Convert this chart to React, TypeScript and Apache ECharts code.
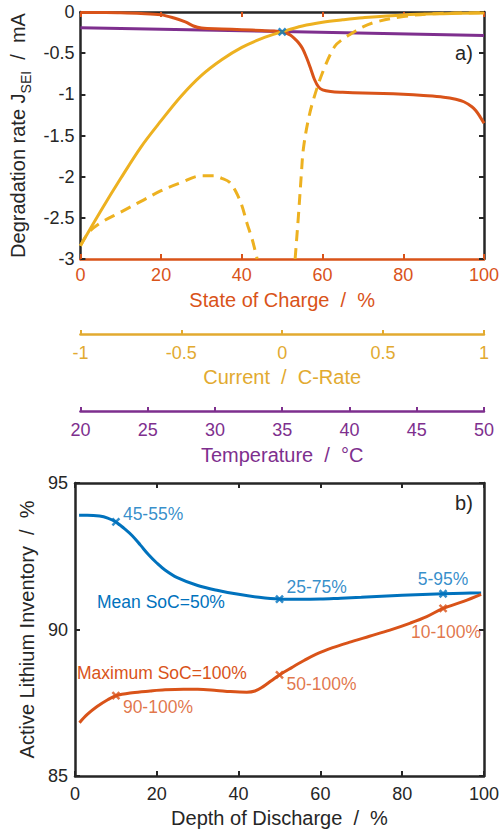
import React, { useEffect, useRef } from 'react';
import * as echarts from 'echarts';

const FONT = "'Liberation Sans', Arial, Helvetica, sans-serif";
const DARK = '#262626';
const ORANGE = '#D95319';
const YELLOW = '#EDB120';
const YELLOW_AXIS = '#E2AA30';
const PURPLE = '#7E2F8E';
const BLUE = '#0072BD';

const TICK_FS = 18;
const TITLE_FS = 20;
const NOTE_FS = 17.5;

// ---------- Panel a) ----------
// Degradation rate vs State of Charge (%)
const socX = [0, 5, 10, 15, 20, 23, 26, 28, 30, 35, 40, 45, 48, 50, 51, 52, 53, 54, 55, 56, 57, 58, 59, 60, 62, 65, 70, 75, 80, 85, 90, 93, 95, 97, 98, 99, 100];
const socRate = [-0.005, -0.007, -0.01, -0.018, -0.035, -0.07, -0.12, -0.17, -0.195, -0.205, -0.215, -0.225, -0.232, -0.24, -0.255, -0.28, -0.32, -0.37, -0.44, -0.55, -0.68, -0.82, -0.91, -0.945, -0.965, -0.975, -0.985, -0.99, -1.0, -1.015, -1.035, -1.06, -1.09, -1.15, -1.2, -1.27, -1.35];

// Degradation rate vs Current (C-rate), solid
const currentX = [-1, -0.9, -0.8, -0.7, -0.6, -0.5, -0.4, -0.3, -0.2, -0.1, 0, 0.1, 0.2, 0.3, 0.4, 0.6, 0.8, 1];
const currentRate = [-2.84, -2.42, -2.02, -1.64, -1.32, -1.02, -0.77, -0.58, -0.43, -0.32, -0.24, -0.17, -0.125, -0.095, -0.07, -0.035, -0.02, -0.012];

// Degradation rate vs Current (C-rate), dashed, two branches
const currentDashAX = [-1, -0.96, -0.9, -0.8, -0.7, -0.6, -0.5, -0.4, -0.34, -0.3, -0.26, -0.23, -0.2, -0.174, -0.15, -0.134, -0.124];
const currentDashARate = [-2.84, -2.68, -2.56, -2.43, -2.3, -2.17, -2.07, -1.99, -1.99, -2.02, -2.07, -2.18, -2.35, -2.57, -2.75, -2.9, -3.0];
const currentDashBX = [0.064, 0.08, 0.096, 0.104, 0.126, 0.154, 0.204, 0.26, 0.3, 0.352, 0.4, 0.466, 0.6, 0.76, 1];
const currentDashBRate = [-3.0, -2.49, -1.93, -1.68, -1.35, -1.07, -0.71, -0.42, -0.33, -0.25, -0.18, -0.12, -0.055, -0.02, -0.01];

// Degradation rate vs Temperature (°C)
const tempX = [20, 35, 50];
const tempRate = [-0.19, -0.2375, -0.285];

// Reference operating point (SoC %, rate)
const refPoint = [50, -0.24];

const socTicks = { min: 0, max: 100, interval: 20 };
const currentTicks = { min: -1, max: 1, interval: 0.5 };
const tempTicks = { min: 20, max: 50, interval: 5 };
const rateTicks = { min: -3, max: 0, interval: 0.5 };

// ---------- Panel b) ----------
const dodMean = [1, 3, 6, 8, 10, 12, 14, 16, 18, 20, 22, 25, 30, 35, 40, 45, 50, 55, 60, 65, 70, 80, 90, 95, 99.3];
const aliMean = [93.9, 93.9, 93.87, 93.8, 93.67, 93.45, 93.2, 92.88, 92.55, 92.27, 92.03, 91.77, 91.5, 91.33, 91.2, 91.1, 91.04, 91.03, 91.04, 91.07, 91.1, 91.17, 91.22, 91.24, 91.25];
const dodMax = [1.1, 3, 5.4, 8, 10, 14, 18.4, 22, 26.5, 30, 34.6, 38, 42, 44, 46, 48, 50, 53, 56, 59, 63, 67, 72, 77, 82, 86, 90, 95, 99.3];
const aliMax = [86.82, 87.1, 87.37, 87.6, 87.74, 87.84, 87.9, 87.94, 87.96, 87.96, 87.92, 87.88, 87.86, 87.9, 88.05, 88.25, 88.45, 88.7, 88.94, 89.16, 89.38, 89.56, 89.77, 89.98, 90.22, 90.44, 90.72, 90.96, 91.2];

const meanMarkDod = [10, 50, 90];
const meanMarkAli = [93.67, 91.04, 91.22];
const meanMarkLabels = ['45-55%', '25-75%', '5-95%'];
const maxMarkDod = [10, 50, 90];
const maxMarkAli = [87.74, 88.45, 90.72];
const maxMarkLabels = ['90-100%', '50-100%', '10-100%'];

const dodTicks = { min: 0, max: 100, interval: 20 };
const aliTicks = { min: 85, max: 95, interval: 5 };

const X_SYMBOL = 'path://M0,0L10,10M10,0L0,10';

const zip = (xs: number[], ys: number[]) => xs.map((x, i) => [x, ys[i]]);

function axisBase(opts: any) {
  const {
    lineColor = DARK,
    tickColor,
    labelColor = DARK,
    showLabel = true,
    labelMargin = 7,
    tickLen = 5,
  } = opts;
  return {
    type: 'value',
    splitLine: { show: false },
    axisLine: { show: true, onZero: false, lineStyle: { color: lineColor, width: 2.5 } },
    axisTick: { show: true, inside: true, length: tickLen, lineStyle: { color: tickColor || lineColor, width: 2 } },
    axisLabel: { show: showLabel, color: labelColor, fontSize: TICK_FS, fontFamily: FONT, margin: labelMargin },
  };
}

const curve = (color: string, dashed = false) => ({
  type: 'line',
  showSymbol: false,
  smooth: 0.35,
  lineStyle: { color, width: 3, ...(dashed ? { type: [11, 7] } : {}) },
});

export default function App() {
  const ref = useRef<HTMLDivElement>(null);

  useEffect(() => {
    if (!ref.current) return;
    const chart = echarts.init(ref.current, undefined, { renderer: 'svg' });

    const nameStyle = (color: string) => ({ color, fontSize: TITLE_FS, fontFamily: FONT });

    const option: any = {
      animation: false,
      backgroundColor: '#ffffff',
      grid: [
        { left: 79, top: 12, width: 406.5, height: 247 },
        { left: 75, top: 483, width: 410, height: 293 },
      ],
      xAxis: [
        {
          ...axisBase({ lineColor: ORANGE, labelColor: ORANGE, labelMargin: 7 }),
          ...socTicks,
          gridIndex: 0,
          position: 'bottom',
          name: 'State of Charge  /  %',
          nameLocation: 'middle',
          nameGap: 31,
          nameTextStyle: nameStyle(ORANGE),
        },
        {
          ...axisBase({ lineColor: DARK, tickColor: ORANGE, showLabel: false }),
          ...socTicks,
          gridIndex: 0,
          position: 'top',
        },
        {
          ...axisBase({ lineColor: YELLOW_AXIS, labelColor: YELLOW_AXIS, labelMargin: 10, tickLen: 4 }),
          ...currentTicks,
          gridIndex: 0,
          position: 'bottom',
          offset: 75,
          name: 'Current  /  C-Rate',
          nameLocation: 'middle',
          nameGap: 33,
          nameTextStyle: nameStyle(YELLOW_AXIS),
        },
        {
          ...axisBase({ lineColor: PURPLE, labelColor: PURPLE, labelMargin: 10, tickLen: 4 }),
          ...tempTicks,
          gridIndex: 0,
          position: 'bottom',
          offset: 152,
          name: 'Temperature  /  °C',
          nameLocation: 'middle',
          nameGap: 34,
          nameTextStyle: nameStyle(PURPLE),
        },
        {
          ...axisBase({ labelMargin: 9 }),
          ...dodTicks,
          gridIndex: 1,
          position: 'bottom',
          name: 'Depth of Discharge  /  %',
          nameLocation: 'middle',
          nameGap: 32,
          nameTextStyle: nameStyle(DARK),
        },
        {
          ...axisBase({ showLabel: false }),
          ...dodTicks,
          gridIndex: 1,
          position: 'top',
        },
      ],
      yAxis: [
        {
          ...axisBase({ labelMargin: 6 }),
          ...rateTicks,
          gridIndex: 0,
          position: 'left',
          name: '{n|Degradation rate J}{s|SEI}{n|  /  mA}',
          nameLocation: 'middle',
          nameGap: 47,
          nameTextStyle: {
            color: DARK,
            fontFamily: FONT,
            fontSize: TITLE_FS,
            rich: {
              n: { fontSize: TITLE_FS, fontFamily: FONT, color: DARK },
              s: { fontSize: 14, fontFamily: FONT, color: DARK, padding: [15, 0, 0, 0] },
            },
          },
        },
        {
          ...axisBase({ showLabel: false }),
          ...rateTicks,
          gridIndex: 0,
          position: 'right',
        },
        {
          ...axisBase({ labelMargin: 7 }),
          ...aliTicks,
          gridIndex: 1,
          position: 'left',
          name: 'Active Lithium Inventory  /  %',
          nameLocation: 'middle',
          nameGap: 29,
          nameTextStyle: nameStyle(DARK),
        },
        {
          ...axisBase({ showLabel: false }),
          ...aliTicks,
          gridIndex: 1,
          position: 'right',
        },
      ],
      series: [
        {
          ...curve(PURPLE),
          name: 'Temperature',
          xAxisIndex: 3,
          yAxisIndex: 0,
          data: zip(tempX, tempRate),
          smooth: false,
          z: 3,
        },
        {
          ...curve(ORANGE),
          name: 'SoC',
          xAxisIndex: 0,
          yAxisIndex: 0,
          data: zip(socX, socRate),
          z: 4,
        },
        {
          ...curve(YELLOW),
          name: 'Current',
          xAxisIndex: 2,
          yAxisIndex: 0,
          data: zip(currentX, currentRate),
          z: 5,
        },
        {
          ...curve(YELLOW, true),
          name: 'Current dashed A',
          xAxisIndex: 2,
          yAxisIndex: 0,
          data: zip(currentDashAX, currentDashARate),
          z: 5,
        },
        {
          ...curve(YELLOW, true),
          name: 'Current dashed B',
          xAxisIndex: 2,
          yAxisIndex: 0,
          data: zip(currentDashBX, currentDashBRate),
          z: 5,
        },
        {
          type: 'scatter',
          xAxisIndex: 0,
          yAxisIndex: 0,
          data: [refPoint],
          symbol: X_SYMBOL,
          symbolSize: 7,
          itemStyle: { color: 'none', borderColor: BLUE, borderWidth: 2.5 },
          z: 10,
        },
        // Panel b)
        {
          ...curve(BLUE),
          name: 'Mean SoC=50%',
          xAxisIndex: 4,
          yAxisIndex: 2,
          data: zip(dodMean, aliMean),
          z: 4,
        },
        {
          ...curve(ORANGE),
          name: 'Maximum SoC=100%',
          xAxisIndex: 4,
          yAxisIndex: 2,
          data: zip(dodMax, aliMax),
          z: 4,
        },
        {
          type: 'scatter',
          xAxisIndex: 4,
          yAxisIndex: 2,
          symbol: X_SYMBOL,
          symbolSize: 7,
          itemStyle: { color: 'none', borderColor: BLUE, borderWidth: 2.5 },
          label: { show: true, color: BLUE, fontSize: NOTE_FS, fontFamily: FONT, distance: 0 },
          data: meanMarkDod.map((d, i) => ({
            value: [d, meanMarkAli[i]],
            label: {
              formatter: meanMarkLabels[i],
              position: i === 2 ? 'top' : 'right',
              offset: i === 0 ? [1, -8] : i === 1 ? [1, -12] : [0, 0],
            },
          })),
          z: 10,
        },
        {
          type: 'scatter',
          xAxisIndex: 4,
          yAxisIndex: 2,
          symbol: X_SYMBOL,
          symbolSize: 7,
          itemStyle: { color: 'none', borderColor: ORANGE, borderWidth: 2.5 },
          label: { show: true, color: ORANGE, fontSize: NOTE_FS, fontFamily: FONT, distance: 0 },
          data: maxMarkDod.map((d, i) => ({
            value: [d, maxMarkAli[i]],
            label: {
              formatter: maxMarkLabels[i],
              position: i === 2 ? 'bottom' : 'right',
              offset: i === 0 ? [1, 11] : i === 1 ? [1, 9] : [3, 9],
            },
          })),
          z: 10,
        },
      ],
      graphic: [
        { type: 'text', x: 464, y: 53, style: { text: 'a)', fill: DARK, fontSize: TITLE_FS, fontFamily: FONT, align: 'center', verticalAlign: 'middle' } },
        { type: 'text', x: 464, y: 503, style: { text: 'b)', fill: DARK, fontSize: TITLE_FS, fontFamily: FONT, align: 'center', verticalAlign: 'middle' } },
        { type: 'text', x: 97, y: 602, style: { text: 'Mean SoC=50%', fill: BLUE, fontSize: NOTE_FS, fontFamily: FONT, align: 'left', verticalAlign: 'middle' } },
        { type: 'text', x: 77, y: 673, style: { text: 'Maximum SoC=100%', fill: ORANGE, fontSize: NOTE_FS, fontFamily: FONT, align: 'left', verticalAlign: 'middle' } },
      ],
    };

    chart.setOption(option);
    return () => chart.dispose();
  }, []);

  return (
    <div
      ref={ref}
      style={{ position: 'absolute', left: 0, top: 0, width: 502, height: 831, background: '#fff' }}
    />
  );
}
